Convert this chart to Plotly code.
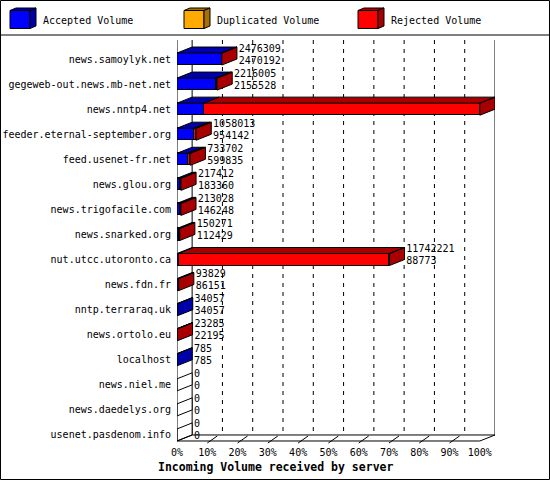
import plotly.graph_objects as go

# ---------------- data ----------------
hosts = [
    "news.samoylyk.net", "gegeweb-out.news.mb-net.net", "news.nntp4.net",
    "feeder.eternal-september.org", "feed.usenet-fr.net", "news.glou.org",
    "news.trigofacile.com", "news.snarked.org", "nut.utcc.utoronto.ca",
    "news.fdn.fr", "nntp.terraraq.uk", "news.ortolo.eu", "localhost",
    "news.niel.me", "news.daedelys.org", "usenet.pasdenom.info",
]
total_volume = [2476309, 2216005, 16743538, 1058013, 733702, 217412, 213028, 150271,
                11742221, 93829, 34057, 23285, 785, 0, 0, 0]
accepted_volume = [2470192, 2155528, 1492279, 954142, 599835, 183360, 146248, 112429,
                   88773, 86151, 34057, 22195, 785, 0, 0, 0]
duplicated_volume = [0, 0, 0, 0, 0, 0, 0, 0, 0, 0, 0, 0, 0, 0, 0, 0]
rejected_volume = [6117, 60477, 15251259, 103871, 133867, 34052, 66780, 37842,
                   11653448, 7678, 0, 1090, 0, 0, 0, 0]
series_names = ["Accepted Volume", "Duplicated Volume", "Rejected Volume"]
tick_values = [0, 10, 20, 30, 40, 50, 60, 70, 80, 90, 100]
tick_labels = ["0%", "10%", "20%", "30%", "40%", "50%", "60%", "70%", "80%", "90%", "100%"]
x_title = "Incoming Volume received by server"

# ---------------- style ----------------
FRONT = ["#0000ff", "#ffaa00", "#ff0000"]
DARK = ["#0000a8", "#a87000", "#a80000"]
FONT = "DejaVu Sans Mono"

W, H = 550, 480
L, R, T, B = 177, 55, 40, 35
DX = 5.0      # 3D depth along x (axis units)
DY = 0.24     # 3D depth along y (row units)
HALF = 0.24   # half bar thickness (row units)
XMAX = 105
YTOP, YBOT = -0.76, 15.4
FLOOR_FRONT = 15.24
FLOOR_BACK = FLOOR_FRONT - DY

series = [accepted_volume, duplicated_volume, rejected_volume]
scale = 100.0 / max(total_volume)
pct = [[v * scale for v in s] for s in series]
rows = list(range(len(hosts)))

fig = go.Figure()

# front faces
for k in range(3):
    fig.add_trace(go.Bar(
        x=pct[k], y=rows, orientation="h", width=2 * HALF,
        marker=dict(color=FRONT[k], line=dict(color="black", width=1)),
        hoverinfo="skip", showlegend=False, name=series_names[k]))

# top and side faces
polys = {}


def add_poly(color, pts):
    xs, ys = polys.setdefault(color, ([], []))
    for (px, py) in pts + [pts[0]]:
        xs.append(px)
        ys.append(py)
    xs.append(None)
    ys.append(None)


for i in rows:
    yt, yb = i - HALF, i + HALF
    x0 = 0.0
    last = None
    for k in range(3):
        w = pct[k][i]
        if w > 0:
            x1 = x0 + w
            add_poly(DARK[k], [(x0, yt), (x1, yt), (x1 + DX, yt - DY), (x0 + DX, yt - DY)])
            last = k
            x0 = x1
    side_color = DARK[last] if last is not None else "#ffffff"
    add_poly(side_color, [(x0, yt), (x0 + DX, yt - DY), (x0 + DX, yb - DY), (x0, yb)])

for color, (xs, ys) in polys.items():
    fig.add_trace(go.Scatter(
        x=xs, y=ys, mode="lines", fill="toself", fillcolor=color,
        line=dict(color="black", width=1), hoverinfo="skip", showlegend=False))

# value labels
label_x = [t * scale + DX + 0.6 for t in total_volume]
fig.add_trace(go.Scatter(
    x=label_x, y=[i - 0.40 for i in rows], mode="text",
    text=[str(v) for v in total_volume], textposition="middle right",
    textfont=dict(family=FONT, size=10, color="black"),
    cliponaxis=False, hoverinfo="skip", showlegend=False))
fig.add_trace(go.Scatter(
    x=label_x, y=[i + 0.08 for i in rows], mode="text",
    text=[str(v) for v in accepted_volume], textposition="middle right",
    textfont=dict(family=FONT, size=10, color="black"),
    cliponaxis=False, hoverinfo="skip", showlegend=False))

# ---------------- frame / walls ----------------
shapes = []
ln = dict(color="black", width=1)


def seg(x0, y0, x1, y1, line=ln, xref="x", yref="y", layer="above"):
    shapes.append(dict(type="line", x0=x0, y0=y0, x1=x1, y1=y1,
                       xref=xref, yref=yref, line=line, layer=layer))


for v in tick_values[1:-1]:
    seg(v + DX, YTOP, v + DX, FLOOR_BACK,
        line=dict(color="black", width=1, dash="4px,5px"), layer="below")
seg(DX, YTOP, DX, FLOOR_BACK, layer="below")
seg(XMAX, YTOP, XMAX, FLOOR_BACK, layer="below")
seg(DX, FLOOR_BACK, XMAX, FLOOR_BACK, layer="below")
seg(0, YTOP, 0, FLOOR_FRONT)
seg(0, FLOOR_FRONT, 100, FLOOR_FRONT)
seg(0, FLOOR_FRONT, DX, FLOOR_BACK)
seg(100, FLOOR_FRONT, XMAX, FLOOR_BACK)
for v in tick_values[1:-1]:
    seg(v, FLOOR_FRONT + 0.08, v + 3.3, FLOOR_FRONT - 0.2)

# pixel -> paper helpers
PW, PH = W - L - R, H - T - B


def px_x(px):
    return (px - L) / PW


def px_y(py):
    return (H - B - py) / PH


# outer border and legend separator
shapes.append(dict(type="rect", xref="paper", yref="paper",
                   x0=px_x(0.5), x1=px_x(549.5), y0=px_y(479.5), y1=px_y(0.5),
                   line=dict(color="black", width=1), fillcolor="rgba(0,0,0,0)", layer="above"))
seg(px_x(0), px_y(35), px_x(550), px_y(35), xref="paper", yref="paper")

annotations = []
legend_x = [10, 184, 358]


def path(pts):
    return "M " + " L ".join(f"{px_x(a)},{px_y(b)}" for a, b in pts) + " Z"


for k in range(3):
    x = legend_x[k]
    fy0, fy1 = 10.5, 28.5
    cd, ch = 6, 2.5
    shapes.append(dict(type="path", xref="paper", yref="paper",
                       path=path([(x, fy0), (x + 20, fy0), (x + 20, fy1), (x, fy1)]),
                       fillcolor=FRONT[k], line=ln, layer="above"))
    shapes.append(dict(type="path", xref="paper", yref="paper",
                       path=path([(x, fy0), (x + cd, fy0 - ch), (x + 20 + cd, fy0 - ch), (x + 20, fy0)]),
                       fillcolor=DARK[k], line=ln, layer="above"))
    shapes.append(dict(type="path", xref="paper", yref="paper",
                       path=path([(x + 20, fy0), (x + 20 + cd, fy0 - ch), (x + 20 + cd, fy1 - ch), (x + 20, fy1)]),
                       fillcolor=DARK[k], line=ln, layer="above"))
    annotations.append(dict(xref="paper", yref="paper", x=px_x(x + 31), y=px_y(20),
                            text=series_names[k], showarrow=False, xanchor="left", yanchor="middle",
                            font=dict(family=FONT, size=10, color="black")))

annotations.append(dict(xref="paper", yref="paper", x=px_x(275), y=px_y(467),
                        text="<b>" + x_title + "</b>", showarrow=False,
                        xanchor="center", yanchor="middle",
                        font=dict(family=FONT, size=11.5, color="black")))

fig.update_layout(
    width=W, height=H, margin=dict(l=L, r=R, t=T, b=B, autoexpand=False),
    paper_bgcolor="white", plot_bgcolor="white",
    barmode="stack", bargap=0, showlegend=False,
    shapes=shapes, annotations=annotations,
    xaxis=dict(range=[0, XMAX], tickvals=tick_values, ticktext=tick_labels,
               showgrid=False, zeroline=False, showline=False, ticks="",
               tickfont=dict(family=FONT, size=10, color="black"), fixedrange=True),
    yaxis=dict(range=[YBOT, YTOP], tickvals=rows, ticktext=hosts,
               showgrid=False, zeroline=False, showline=False, ticks="",
               ticklabelstandoff=5,
               tickfont=dict(family=FONT, size=10, color="black"), fixedrange=True),
)

fig.write_html("out.html", config={"displayModeBar": False},
               post_script="document.body.style.margin='0';document.body.style.overflow='hidden';")
